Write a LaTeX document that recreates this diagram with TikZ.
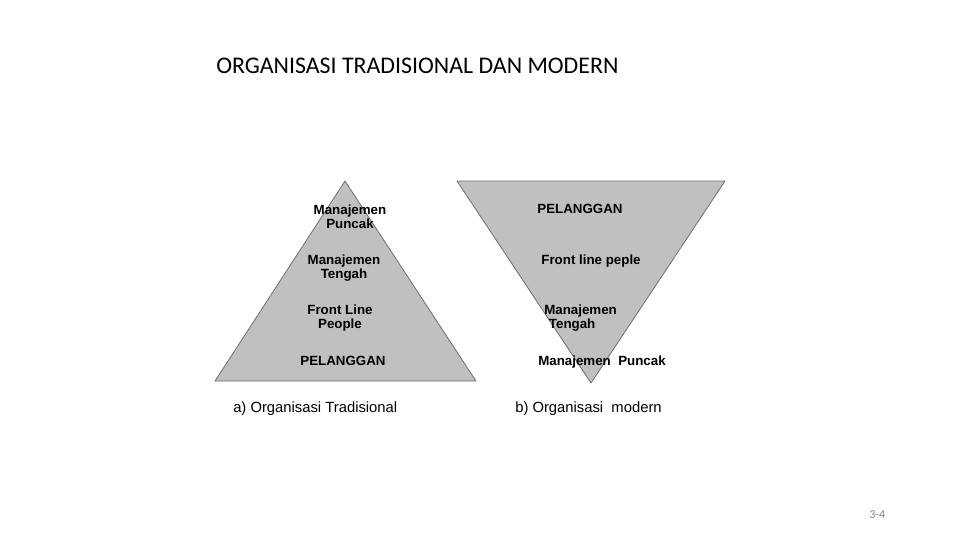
\documentclass[tikz,border=0pt]{standalone}
\usepackage{fontspec}
\setmainfont{Liberation Sans}
\newfontfamily\titlefont{Carlito}
\usepackage{tikz}
\usetikzlibrary{positioning}
\definecolor{pyramid}{RGB}{192,192,192}
\definecolor{edge}{RGB}{110,110,110}
\tikzstyle{level} = [font=\fontsize{10}{10.6}\selectfont\bfseries, align=center, inner sep=0pt]
\tikzstyle{caption} = [font=\fontsize{11.1}{12}\selectfont, anchor=west, inner sep=0pt]
\tikzstyle{tri} = [fill=pyramid, draw=edge, line width=0.6pt, line join=round]

\begin{document}
\begin{tikzpicture}[x=0.75pt, y=-0.75pt]
    \useasboundingbox (0,0) rectangle (960,540);
    \node [anchor=west, inner sep=0pt, font=\titlefont\fontsize{17.9}{20}\selectfont] (title) at (216,66) {ORGANISASI TRADISIONAL DAN MODERN};

    % a) traditional
    \draw [tri] (345,181) -- (476,381) -- (215,381) -- cycle;
    \node [level] (a1) at (350,217) {Manajemen\\Puncak};
    \node [level] (a2) at (344,268) {Manajemen\\Tengah};
    \node [level] (a3) at (340,318) {Front Line\\People};
    \node [level] (a4) at (343,361) {PELANGGAN};
    \node [caption] (capa) at (233,409) {a) Organisasi Tradisional};

    % b) modern
    \draw [tri] (457,181) -- (725,181) -- (591,383) -- cycle;
    \node [level] (b1) at (580,209) {PELANGGAN};
    \node [level] (b2) at (591,261) {Front line peple};
    \node [level, anchor=west, align=left] (b3) at (544,318) {Manajemen\\\hspace*{3.5pt}Tengah};
    \node [level, anchor=west] (b4) at (538,362) {Manajemen\ \ Puncak};
    \node [caption] (capb) at (515,409) {b) Organisasi\ \ modern};

    \node [anchor=west, inner sep=0pt, text=gray, font=\titlefont\fontsize{9}{10}\selectfont] (page) at (869,515) {3-4};
\end{tikzpicture}
\end{document}
